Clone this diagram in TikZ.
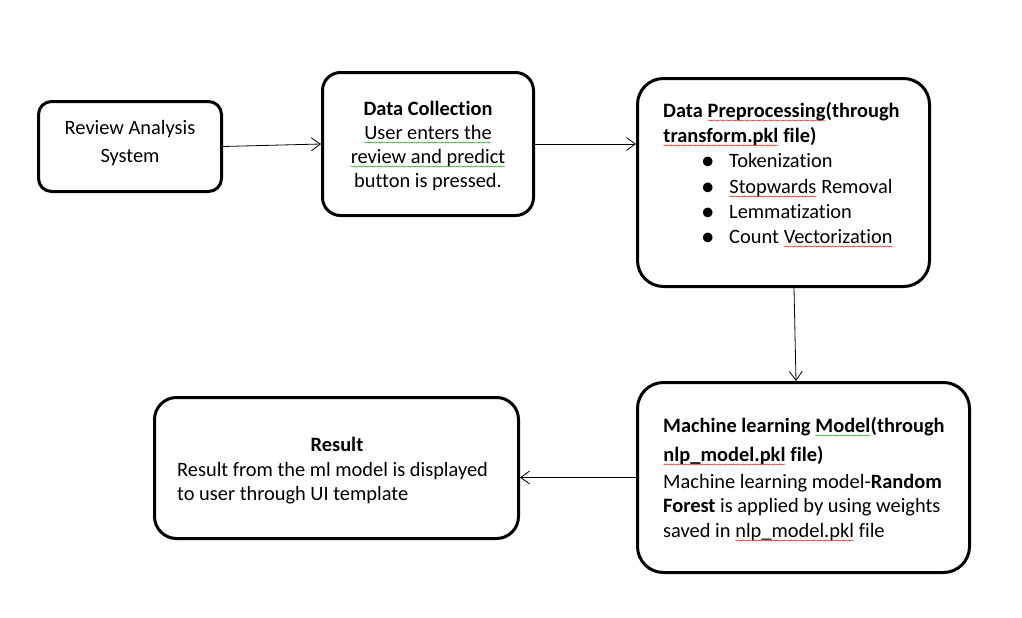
\documentclass[tikz,border=0pt]{standalone}
\usepackage{fontspec}
\setmainfont{Carlito}[Ligatures={NoCommon}]
\usetikzlibrary{arrows.meta,decorations.pathmorphing}
\definecolor{spellred}{RGB}{225,30,30}
\definecolor{spellgreen}{RGB}{40,160,40}
\newcommand\wavy[2]{\tikz[baseline=(w.base)]{\node[inner sep=0pt,outer sep=0pt,anchor=base](w){#2};\draw[#1,line width=0.45pt,decorate,decoration={snake,amplitude=0.6pt,segment length=2.4pt}]([yshift=-3.5pt]w.base west)--([yshift=-3.5pt]w.base east);}}
\begin{document}
\begin{tikzpicture}[x=1pt,y=-1pt,
  box/.style={draw=black,line width=3pt,rounded corners=#1,inner sep=0pt},
  tx/.style={inner sep=0pt,font=\fontsize{20.4}{24}\selectfont},
  bul/.style={inner sep=0pt,font=\fontsize{27}{24}\selectfont},
  conn/.style={line width=0.8pt,-{Straight Barb[length=9pt,width=13pt,line width=0.8pt]}}]
\useasboundingbox (0,0) rectangle (1022,618);
\fill[white] (0,0) rectangle (1022,618);

% boxes
\node[box=13pt,minimum width=183pt,minimum height=90pt] (b1) at (130,146.5) {};
\node[box=18pt,minimum width=211pt,minimum height=143pt] (b2) at (428,144) {};
\node[box=26pt,minimum width=292pt,minimum height=208pt] (b3) at (783.5,182.5) {};
\node[box=26pt,minimum width=332pt,minimum height=190pt] (b4) at (803.5,477.5) {};
\node[box=22pt,minimum width=364pt,minimum height=141pt] (b5) at (336.5,468) {};

% box 1
\node[tx,anchor=base] (t1a) at (130,134) {Review Analysis};
\node[tx,anchor=base] (t1b) at (130,162) {System};

% box 2
\node[tx,anchor=base] (t2a) at (428,115) {\textbf{Data Collection}};
\node[tx,anchor=base] (t2b) at (428,139) {\wavy{spellgreen}{User enters the}};
\node[tx,anchor=base] (t2c) at (428,163) {\wavy{spellgreen}{review and predict}};
\node[tx,anchor=base] (t2d) at (428,187) {button is pressed.};

% box 3
\node[tx,anchor=base west] (t3a) at (663,117) {\textbf{Data \wavy{spellred}{Preprocessing}(through}};
\node[tx,anchor=base west] (t3b) at (663,142) {\textbf{\wavy{spellred}{transform.pkl} file)}};
\node[bul,anchor=base west] (u1) at (701,169) {•};
\node[tx,anchor=base west] (t3c) at (729,167) {Tokenization};
\node[bul,anchor=base west] (u2) at (701,195) {•};
\node[tx,anchor=base west] (t3d) at (729,193) {\wavy{spellred}{Stopwards} Removal};
\node[bul,anchor=base west] (u3) at (701,220) {•};
\node[tx,anchor=base west] (t3e) at (729,218) {Lemmatization};
\node[bul,anchor=base west] (u4) at (701,245) {•};
\node[tx,anchor=base west] (t3f) at (729,243) {Count \wavy{spellred}{Vectorization}};

% box 4
\node[tx,anchor=base west] (t4a) at (663,432) {\textbf{Machine learning \wavy{spellgreen}{Model}(through}};
\node[tx,anchor=base west] (t4b) at (663,461) {\textbf{\wavy{spellred}{nlp\_model.pkl} file)}};
\node[tx,anchor=base west] (t4c) at (663,488) {Machine learning model-\textbf{Random}};
\node[tx,anchor=base west] (t4d) at (663,512) {\textbf{Forest} is applied by using weights};
\node[tx,anchor=base west] (t4e) at (663,537) {saved in \wavy{spellred}{nlp\_model.pkl} file};

% box 5
\node[tx,anchor=base] (t5a) at (337,451) {\textbf{Result}};
\node[tx,anchor=base west] (t5b) at (177,476) {Result from the ml model is displayed};
\node[tx,anchor=base west] (t5c) at (177,500) {to user through UI template};

% connectors
\draw[conn] (b1.east) -- (b2.west);
\draw[conn] (b2.east) -- (b2.east -| b3.west);
\draw[conn] ([xshift=10.5pt]b3.south) -- ([xshift=-7.5pt]b4.north);
\draw[conn] (b4.west) -- (b4.west -| b5.east);
\end{tikzpicture}
\end{document}
